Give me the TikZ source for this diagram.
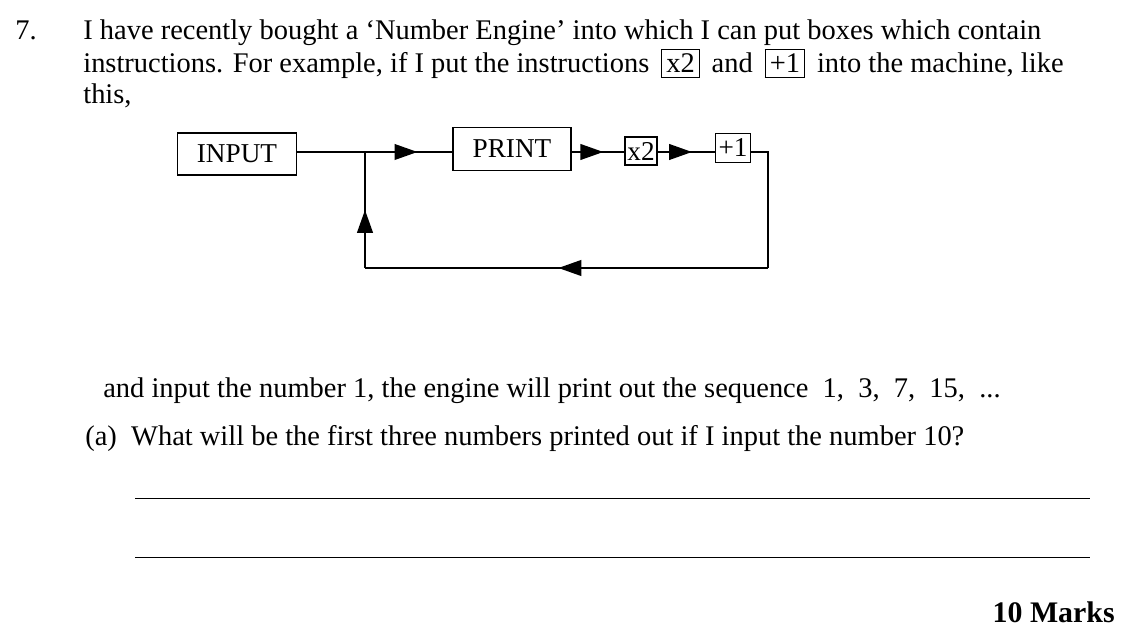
\documentclass[tikz,border=0pt]{standalone}
\usepackage{fontspec}
\setmainfont{Liberation Serif}
\usetikzlibrary{arrows.meta}
\usetikzlibrary{decorations.markings}

\begin{document}
\fontsize{16.2}{19}\selectfont
\begin{tikzpicture}
[x=0.02cm,y=-0.02cm
,txt/.style={anchor=base west,inner sep=0pt}
,bx/.style={draw,thick,inner sep=0pt,font=\fontsize{15.5}{18}\selectfont}
,ln/.style={thick}
,midarrow/.style={ln,postaction={decorate},decoration={markings,
  mark=at position #1 with {\arrow{Triangle[length=13pt,width=9pt]}}}}
,rule/.style={thin}]
\useasboundingbox (0,0) rectangle (1144,644);
\newcommand{\ibox}[1]{\setlength{\fboxsep}{2.5pt}\fbox{#1}}

\node[txt] (num) at (15,40) {7.};
\node[txt] (l1) at (83,40) {I have recently bought a ‘Number Engine’ into which I can put boxes which contain};
\node[txt] (l2) at (83,73) {instructions. For example, if I put the instructions \,\ibox{x2}\, and \,\ibox{+1}\, into the machine, like};
\node[txt] (l3) at (83,104) {this,};

\node[bx,minimum width=119*0.02cm,minimum height=42*0.02cm] (input) at (237,154) {INPUT};
\node[bx,minimum width=118*0.02cm,minimum height=43*0.02cm] (print) at (512,149) {PRINT};
\node[bx,minimum width=32*0.02cm,minimum height=28*0.02cm] (times) at (641,151) {x2};
\node[bx,minimum width=35*0.02cm,minimum height=29*0.02cm] (plus) at (733,148) {+1};

\coordinate (join) at (365,152);
\coordinate (br) at (768,268);
\coordinate (bl) at (365,268);

\draw[ln] (input.east |- join) -- (join);
\draw[midarrow=0.6] (join) -- (print.west |- join);
\draw[midarrow=0.6] (print.east |- join) -- (times.west |- join);
\draw[midarrow=0.6] (times.east |- join) -- (plus.west |- join);
\draw[ln] (plus.east |- join) -| (br);
\draw[midarrow=0.52] (br) -- (bl);
\draw[midarrow=0.5] (bl) -- (join);

\node[txt] (l4) at (103,398) {and input the number 1, the engine will print out the sequence\enspace 1,\enspace 3,\enspace 7,\enspace 15,\enspace ...};
\node[txt] (qa) at (85,446) {(a)\enspace What will be the first three numbers printed out if I input the number 10?};

\coordinate (a1) at (135,498);
\coordinate (a2) at (1090,498);
\coordinate (b1) at (135,557);
\coordinate (b2) at (1090,557);
\draw[rule] (a1) -- (a2);
\draw[rule] (b1) -- (b2);

\node[anchor=base east,inner sep=0pt,font=\bfseries\fontsize{17}{20}\selectfont] (marks) at (1115,623) {10 Marks};
\end{tikzpicture}
\end{document}
